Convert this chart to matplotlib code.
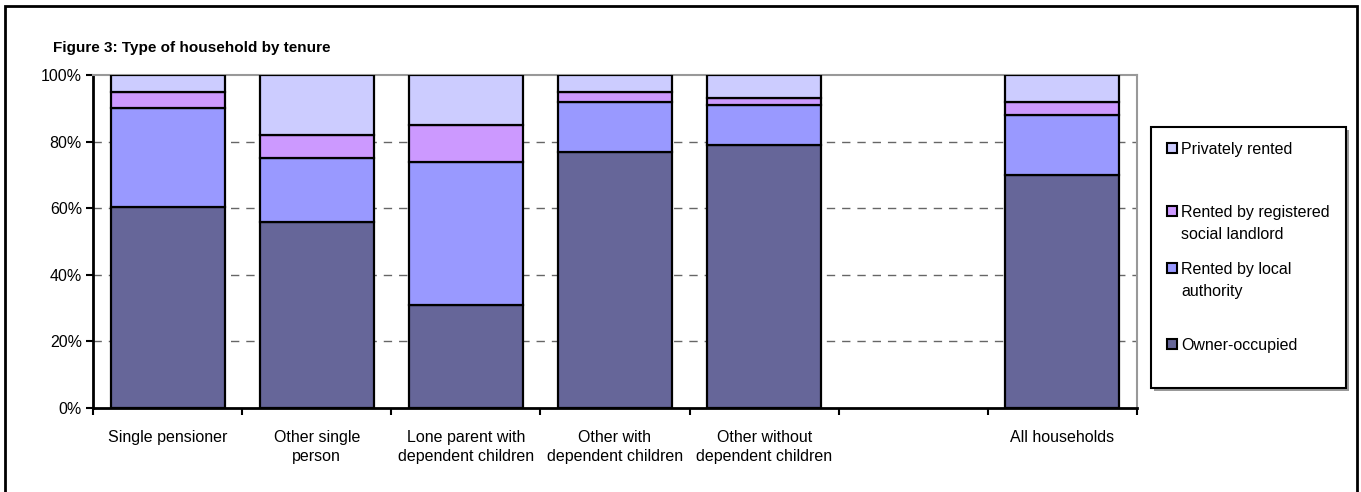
import matplotlib.pyplot as plt
import numpy as np
from matplotlib.patches import Rectangle

plt.rcParams['font.family'] = ['Liberation Sans', 'DejaVu Sans']

W, H = 1361, 492

# household types (one empty slot before the total)
categories = ['Single pensioner', 'Other single\nperson', 'Lone parent with\ndependent children',
              'Other with\ndependent children', 'Other without\ndependent children', '', 'All households']

# tenure shares, percent
owner_occupied = [60.5, 56, 31, 77, 79, 0, 70]
local_authority = [29.5, 19, 43, 15, 12, 0, 18]
social_landlord = [5, 7, 11, 3, 2, 0, 4]
privately_rented = [5, 18, 15, 5, 7, 0, 8]

series = [
    ('Owner-occupied', owner_occupied, '#666699'),
    ('Rented by local\nauthority', local_authority, '#9999ff'),
    ('Rented by registered\nsocial landlord', social_landlord, '#cc99ff'),
    ('Privately rented', privately_rented, '#ccccff'),
]
has_bar = [True, True, True, True, True, False, True]


def px_box(x0, y0, x1, y1):
    # pixel box (top-left origin) -> figure fraction (left, bottom, width, height)
    return x0 / W, 1 - y1 / H, (x1 - x0) / W, (y1 - y0) / H


def px_rect(x0, y0, x1, y1, **kw):
    l, b, w, h = px_box(x0, y0, x1, y1)
    return Rectangle((l, b), w, h, transform=fig.transFigure, **kw)


fig = plt.figure(figsize=(W / 100, H / 100), dpi=100)
fig.patches.append(Rectangle((0.004, -0.01), 0.993, 0.997, transform=fig.transFigure,
                             fill=False, edgecolor='black', linewidth=2))

ax = fig.add_axes(px_box(93, 75, 1137, 408))

x = np.arange(len(categories))
idx = [i for i in x if has_bar[i]]
bottom = np.zeros(len(categories))
for name, vals, col in series:
    v = np.array(vals, dtype=float)
    ax.bar(x[idx], v[idx], bottom=bottom[idx], width=0.765, color=col,
           edgecolor='black', linewidth=1.6, zorder=3)
    bottom += v

ax.set_xlim(-0.5, len(categories) - 0.5)
ax.set_ylim(0, 100)
ax.set_yticks(range(0, 101, 20))
ax.set_yticklabels([f'{t}%' for t in range(0, 101, 20)], fontsize=11.5)
ax.set_xticks(x)
ax.set_xticklabels(categories, fontsize=11.5, linespacing=1.3)
ax.set_xticks(np.arange(-0.5, len(categories)), minor=True)
ax.tick_params(axis='x', which='major', length=0, pad=16)
ax.tick_params(axis='x', which='minor', length=5, width=1.5, direction='out')
ax.tick_params(axis='y', length=5, width=1.5, direction='out', pad=3)

for y in range(20, 100, 20):
    ax.axhline(y, color='#666666', linestyle=(0, (6, 5)), linewidth=1, zorder=1)

for side in ['top', 'right']:
    ax.spines[side].set_color('#999999')
    ax.spines[side].set_linewidth(1.5)
for side in ['left', 'bottom']:
    ax.spines[side].set_color('black')
    ax.spines[side].set_linewidth(2)

fig.text(53 / W, 1 - 48 / H, 'Figure 3: Type of household by tenure',
         fontsize=11, fontweight='bold', va='center', ha='left')

# legend box with a drop shadow, entries listed top-down
lx0, ly0, lx1, ly1 = 1151, 127, 1346, 388
fig.patches.append(px_rect(lx0 + 3, ly0 + 3, lx1 + 3, ly1 + 3,
                           facecolor='#999999', edgecolor='none', zorder=1))
fig.patches.append(px_rect(lx0, ly0, lx1, ly1, facecolor='white',
                           edgecolor='black', linewidth=1.5, zorder=2))

entry_y = [148, 211, 268, 344]
for (name, _, col), ey in zip(series[::-1], entry_y):
    fig.patches.append(px_rect(1167, ey - 5, 1177, ey + 5, facecolor=col,
                               edgecolor='black', linewidth=1.5, zorder=3))
    fig.text(1181 / W, 1 - (ey - 6) / H, name, fontsize=11.5, va='top', ha='left',
             linespacing=1.6, zorder=4)

fig.savefig('out.png', dpi=100)
